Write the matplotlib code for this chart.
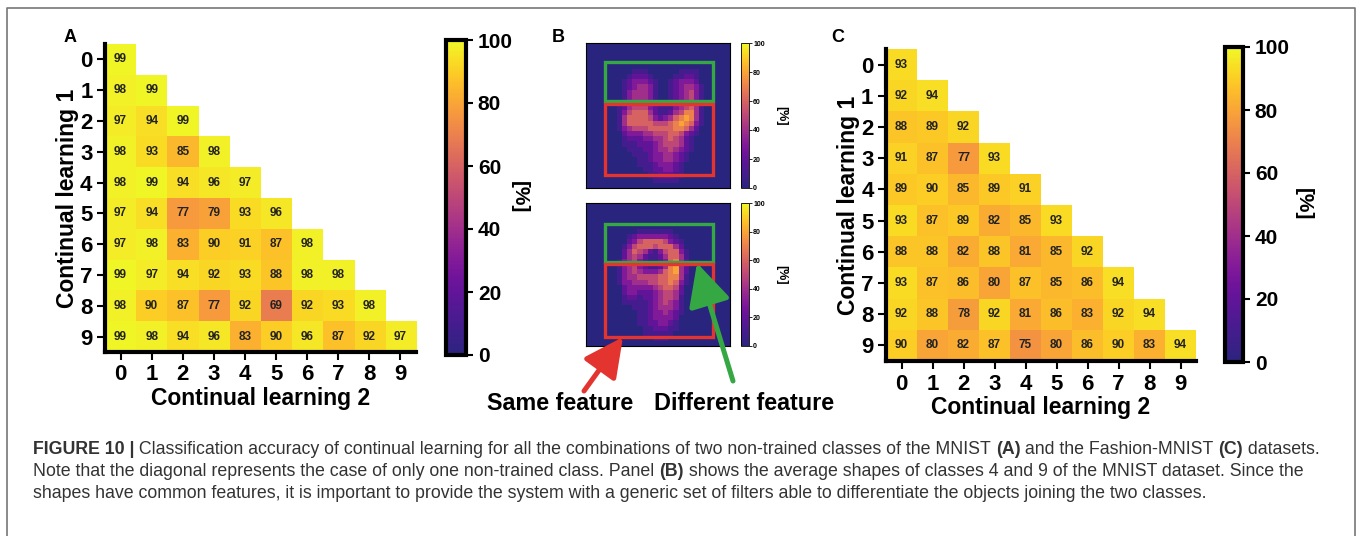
import numpy as np
import matplotlib
matplotlib.use("Agg")
import matplotlib.pyplot as plt
from matplotlib.patches import Rectangle
from matplotlib.colors import ListedColormap

W, H = 1360, 536

# ---- data -------------------------------------------------------------
labels = [str(i) for i in range(10)]

# panel A: MNIST, lower triangle (row = continual learning 1)
mnist_rows = [
    [99],
    [98, 99],
    [97, 94, 99],
    [98, 93, 85, 98],
    [98, 99, 94, 96, 97],
    [97, 94, 77, 79, 93, 96],
    [97, 98, 83, 90, 91, 87, 98],
    [99, 97, 94, 92, 93, 88, 98, 98],
    [98, 90, 87, 77, 92, 69, 92, 93, 98],
    [99, 98, 94, 96, 83, 90, 96, 87, 92, 97],
]

# panel C: Fashion-MNIST
fashion_rows = [
    [93],
    [92, 94],
    [88, 89, 92],
    [91, 87, 77, 93],
    [89, 90, 85, 89, 91],
    [93, 87, 89, 82, 85, 93],
    [88, 88, 82, 88, 81, 85, 92],
    [93, 87, 86, 80, 87, 85, 86, 94],
    [92, 88, 78, 92, 81, 86, 83, 92, 94],
    [90, 80, 82, 87, 75, 80, 86, 90, 83, 94],
]

# panel B: average 28x28 shapes of classes 4 and 9, in tenths of 100 %
zeros = "0000000 0000000 0000000 0000000"
avg_four = [zeros] * 5 + [
    "0000000 0011100 0000111 1000000",
    "0000000 0122210 0001122 1000000",
    "0000000 1233321 0012333 2000000",
    "0000000 1234431 0012344 3100000",
    "0000000 1344431 0012345 3100000",
    "0000000 1344431 0012345 3100000",
    "0000000 1345431 1113455 3100000",
    "0000001 2455532 1113456 4100000",
    "0000001 3566642 1124577 4100000",
    "0000001 4666653 2346787 4100000",
    "0000001 4666665 5567876 3100000",
    "0000001 3455566 6667764 2000000",
    "0000000 2333445 5566532 1000000",
    "0000000 1222334 4565421 0000000",
    "0000000 1112223 4555421 0000000",
    "0000000 0111223 4454321 0000000",
    "0000000 0011123 3443210 0000000",
    "0000000 0001123 3443210 0000000",
    "0000000 0001112 3332100 0000000",
    "0000000 0000112 2332100 0000000",
    "0000000 0000011 2221100 0000000",
    "0000000 0000001 1111000 0000000",
    zeros,
]
avg_nine = [zeros] * 5 + [
    "0000000 0001111 1110000 0000000",
    "0000000 0123333 3321000 0000000",
    "0000000 0235666 6532100 0000000",
    "0000000 1356665 6664200 0000000",
    "0000000 2465421 3566310 0000000",
    "0000000 2454211 2466410 0000000",
    "0000001 3453211 2367420 0000000",
    "0000001 3453211 2478420 0000000",
    "0000001 3454333 4678420 0000000",
    "0000001 3445555 6677410 0000000",
    "0000001 3344455 6676310 0000000",
    "0000000 2333334 5665200 0000000",
    "0000000 2332223 4554200 0000000",
    "0000000 1221223 4554100 0000000",
    "0000000 1111123 4543100 0000000",
    "0000000 0011123 4443100 0000000",
    "0000000 0001123 3432100 0000000",
    "0000000 0001123 3332000 0000000",
    "0000000 0001122 3321000 0000000",
    "0000000 0000112 2211000 0000000",
    "0000000 0000111 1110000 0000000",
    "0000000 0000001 1100000 0000000",
    zeros,
]

caption = [
    [("FIGURE 10 |", True), (" Classification accuracy of continual learning for all the combinations of two non-trained classes of the MNIST ", False),
     ("(A)", True), (" and the Fashion-MNIST ", False), ("(C)", True), (" datasets.", False)],
    [("Note that the diagonal represents the case of only one non-trained class. Panel ", False), ("(B)", True),
     (" shows the average shapes of classes 4 and 9 of the MNIST dataset. Since the", False)],
    [("shapes have common features, it is important to provide the system with a generic set of filters able to differentiate the objects joining the two classes.", False)],
]


def tri_matrix(rows):
    m = np.full((len(rows), len(rows)), np.nan)
    for i, r in enumerate(rows):
        m[i, :len(r)] = r
    return m


def shape_matrix(rows):
    return np.array([[int(c) * 10 for c in r.replace(' ', '')] for r in rows], dtype=float)


def px(x0, y0, x1, y1):
    return [x0 / W, 1 - y1 / H, (x1 - x0) / W, (y1 - y0) / H]


plt.rcParams['font.family'] = ['Liberation Sans', 'DejaVu Sans']
plt.rcParams['font.weight'] = 'bold'

# plasma, slightly muted at the dark end like the printed figure
base = plt.get_cmap('plasma')(np.linspace(0, 1, 256))
mix = (0.45 * (1 - np.linspace(0, 1, 256)) ** 2)[:, None]
base[:, :3] = base[:, :3] * (1 - mix) + mix * np.array([0.30, 0.28, 0.45])
cmap = ListedColormap(base)

fig = plt.figure(figsize=(W / 100, H / 100), dpi=100)


def heatmap(box, cbox, rows, cb_label_x):
    m = tri_matrix(rows)
    ax = fig.add_axes(px(*box))
    im = ax.imshow(np.ma.masked_invalid(m), cmap=cmap, vmin=0, vmax=100, aspect='auto')
    for i, r in enumerate(rows):
        for j, v in enumerate(r):
            ax.text(j, i, str(v), ha='center', va='center', fontsize=8.5, fontweight='bold', color='#222222')
    ax.set_xticks(range(10))
    ax.set_yticks(range(10))
    ax.set_xticklabels(labels, fontsize=16, fontweight='bold')
    ax.set_yticklabels(labels, fontsize=16, fontweight='bold')
    for s in ['top', 'right']:
        ax.spines[s].set_visible(False)
    for s in ['left', 'bottom']:
        ax.spines[s].set_linewidth(3)
    ax.tick_params(width=1.5, length=6, pad=3)
    ax.set_xlabel('Continual learning 2', fontsize=16.5, fontweight='bold', labelpad=1)
    ax.set_ylabel('Continual learning 1', fontsize=16.5, fontweight='bold', labelpad=1)

    cax = fig.add_axes(px(*cbox))
    cb = fig.colorbar(im, cax=cax, ticks=[0, 20, 40, 60, 80, 100])
    cb.outline.set_linewidth(3)
    cax.tick_params(labelsize=15, width=1.5, length=5)
    for t in cax.get_yticklabels():
        t.set_fontweight('bold')
    fig.text(cb_label_x / W, 1 - ((cbox[1] + cbox[3]) / 2) / H, '[%]', rotation=270,
             ha='center', va='center', fontsize=15, fontweight='bold')
    return ax


heatmap((105, 44, 416, 352), (446, 40, 466, 355), mnist_rows, 519)
heatmap((886, 49, 1196, 361), (1225, 47, 1243, 362), fashion_rows, 1303)

# ---- panel B ---------------------------------------------------------
shape_boxes = [((586, 43, 730, 188), (741, 43, 749, 188), avg_four,
                (3.6, 3.7, 24.6, 11.2), (3.6, 11.7, 24.6, 25.5)),
               ((586, 203, 730, 346), (741, 203, 749, 346), avg_nine,
                (3.6, 4.1, 24.6, 11.5), (3.6, 12.0, 24.6, 26.3))]
for box, cbox, rows, g, r in shape_boxes:
    ax = fig.add_axes(px(*box))
    im = ax.imshow(shape_matrix(rows), cmap=cmap, vmin=0, vmax=100, interpolation='nearest',
                   extent=(0, 28, 28, 0), aspect='auto')
    ax.set_xticks([])
    ax.set_yticks([])
    for s in ax.spines.values():
        s.set_linewidth(0.8)
    ax.add_patch(Rectangle((g[0], g[1]), g[2] - g[0], g[3] - g[1], fill=False, ec='#35a843', lw=2.4))
    ax.add_patch(Rectangle((r[0], r[1]), r[2] - r[0], r[3] - r[1], fill=False, ec='#e3342f', lw=2.4))
    cax = fig.add_axes(px(*cbox))
    cb = fig.colorbar(im, cax=cax, ticks=[0, 20, 40, 60, 80, 100])
    cb.outline.set_linewidth(0.6)
    cax.tick_params(labelsize=5, width=0.6, length=2, pad=1)
    fig.text(781 / W, 1 - ((cbox[1] + cbox[3]) / 2) / H, '[%]', rotation=270,
             ha='center', va='center', fontsize=9, fontweight='bold')

# ---- overlay: labels, arrows, caption, frame ------------------------
ov = fig.add_axes([0, 0, 1, 1], zorder=10)
ov.set_xlim(0, W)
ov.set_ylim(H, 0)
ov.axis('off')
ov.patch.set_alpha(0)

ov.plot([7, 7, 1355, 1355], [H + 5, 8, 8, H + 5], color='#777777', lw=1.2, clip_on=False)

for lbl, x, y in [('A', 70, 38), ('B', 558, 37), ('C', 838, 37)]:
    ov.text(x, y, lbl, fontsize=13, fontweight='bold', ha='center', va='center')

ov.annotate('', xy=(623, 337), xytext=(584, 391),
            arrowprops=dict(arrowstyle='-|>,head_length=2.4,head_width=1.2', color='#e3342f',
                            lw=3.6, mutation_scale=10, shrinkA=0, shrinkB=0))
ov.annotate('', xy=(697, 263), xytext=(733, 381),
            arrowprops=dict(arrowstyle='-|>,head_length=2.6,head_width=1.3', color='#35a843',
                            lw=3.6, mutation_scale=10, shrinkA=0, shrinkB=0))
ov.text(560.5, 404, 'Same feature', fontsize=16.8, fontweight='bold', ha='center', va='center')
ov.text(744.5, 404, 'Different feature', fontsize=16.8, fontweight='bold', ha='center', va='center')

renderer = fig.canvas.get_renderer()
for li, line in enumerate(caption):
    x = 33
    y = 449 + li * 22
    for txt, bold in line:
        t = ov.text(x, y, txt, fontsize=12.8, ha='left', va='center',
                    fontweight='bold' if bold else 'normal', color='#333333')
        x += t.get_window_extent(renderer).width

fig.savefig('out.png', dpi=100)
